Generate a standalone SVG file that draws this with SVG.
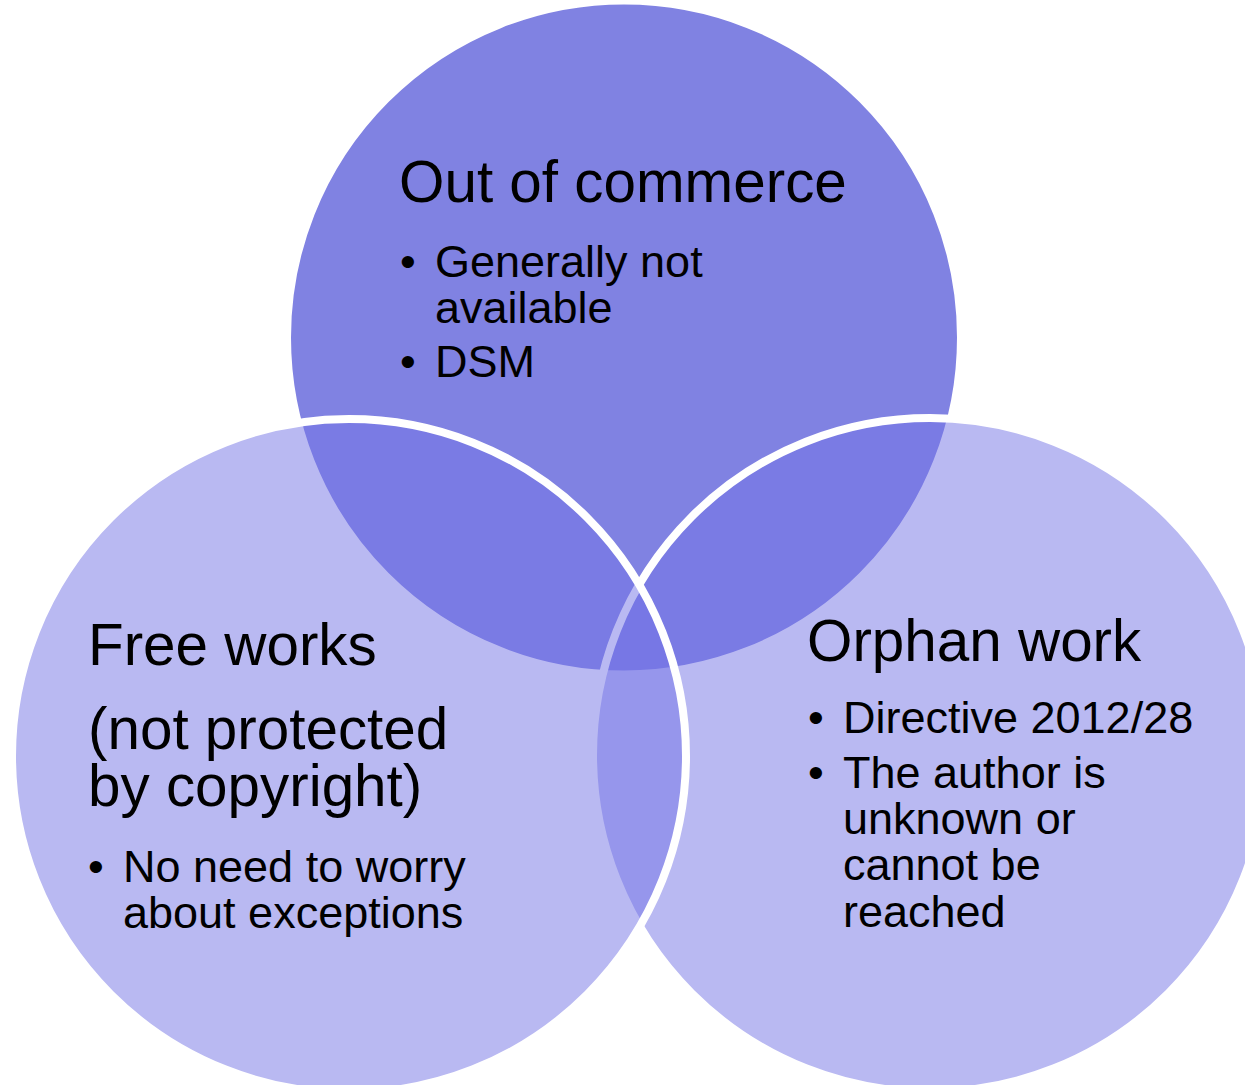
<svg xmlns="http://www.w3.org/2000/svg" width="1245" height="1085" viewBox="0 0 1245 1085">
<style>
.c{stroke:#ffffff;stroke-width:8}
.top{fill:#8082e2}
.side{fill:#7373e5;fill-opacity:0.5}
.h{font-family:"Liberation Sans",Arial,sans-serif;font-size:58.4px;fill:#000}
.b{font-family:"Liberation Sans",Arial,sans-serif;font-size:45px;fill:#000}
</style>
<rect width="1245" height="1085" fill="#ffffff"/>
<g id="node-out-of-commerce">
<circle class="c top" cx="624" cy="337.5" r="337"/>
</g>
<g id="node-orphan-work">
<circle class="c side" cx="930" cy="755" r="337"/>
</g>
<g id="node-free-works">
<circle class="c side" cx="349" cy="756" r="337"/>
</g>
<g id="connectors"></g>
<g id="labels-out-of-commerce">
<text class="h" x="399" y="202">Out of commerce</text>
<text class="b" x="400" y="277">•</text>
<text class="b" x="435" y="277">Generally not</text>
<text class="b" x="435" y="323">available</text>
<text class="b" x="400" y="377">•</text>
<text class="b" x="435" y="377">DSM</text>
</g>
<g id="labels-free-works">
<text class="h" x="88" y="665">Free works</text>
<text class="h" x="88" y="749">(not protected</text>
<text class="h" x="88" y="806">by copyright)</text>
<text class="b" x="88" y="882">•</text>
<text class="b" x="123" y="882">No need to worry</text>
<text class="b" x="123" y="928">about exceptions</text>
</g>
<g id="labels-orphan-work">
<text class="h" x="807" y="661">Orphan work</text>
<text class="b" x="808" y="733">•</text>
<text class="b" x="843" y="733">Directive 2012/28</text>
<text class="b" x="808" y="788">•</text>
<text class="b" x="843" y="788">The author is</text>
<text class="b" x="843" y="834">unknown or</text>
<text class="b" x="843" y="880">cannot be</text>
<text class="b" x="843" y="927">reached</text>
</g>
</svg>
